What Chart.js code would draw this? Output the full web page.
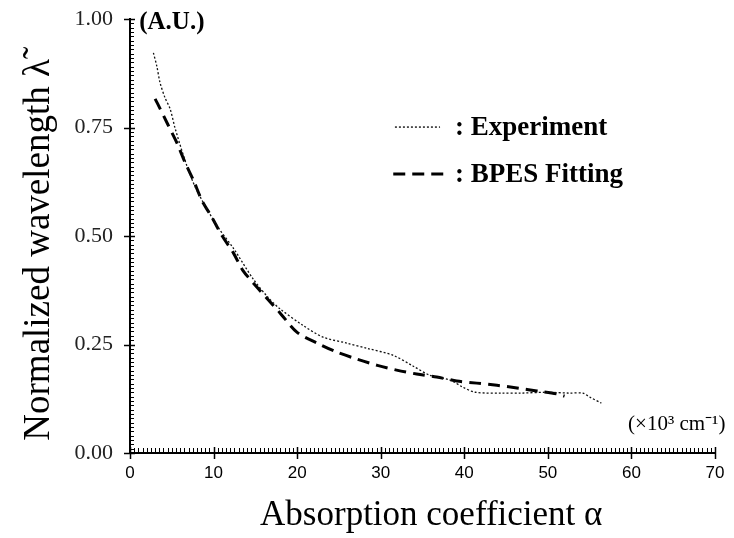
<!DOCTYPE html>
<html>
<head>
<meta charset="utf-8">
<script src="https://cdn.jsdelivr.net/npm/chart.js@4"></script>
<style>
html,body{margin:0;padding:0;background:#fff;}
#wrap{position:relative;width:734px;height:538px;}
</style>
</head>
<body>
<div id="wrap"><canvas id="c" width="734" height="538"></canvas></div>
<script>
const expX = [2.8, 3.2, 3.6, 4.2, 4.8, 5.4, 6.8, 8.0, 10.4, 12.4, 14.7, 16.5, 17.9, 20.7, 23.1, 26.0, 28.4, 31.5, 33.9, 35.9, 38.3, 39.8, 41.3, 44.5, 46.7, 49.9, 52.6, 54.2, 55.0, 56.4];
const expY = [0.922, 0.892, 0.853, 0.818, 0.793, 0.748, 0.662, 0.605, 0.524, 0.471, 0.402, 0.359, 0.333, 0.294, 0.267, 0.253, 0.241, 0.225, 0.200, 0.179, 0.168, 0.152, 0.140, 0.138, 0.138, 0.140, 0.138, 0.138, 0.129, 0.115];
const fitX = [3.0, 3.3, 4.5, 5.6, 6.6, 7.6, 8.6, 9.8, 11.0, 12.4, 13.5, 15.2, 16.4, 17.9, 20.0, 22.4, 24.8, 27.2, 29.6, 31.9, 34.3, 36.7, 39.1, 41.5, 43.9, 46.3, 48.7, 51.1, 52.0];
const fitY = [0.816, 0.805, 0.758, 0.715, 0.669, 0.628, 0.582, 0.543, 0.501, 0.460, 0.421, 0.382, 0.356, 0.324, 0.278, 0.253, 0.232, 0.216, 0.202, 0.191, 0.182, 0.175, 0.166, 0.161, 0.156, 0.150, 0.143, 0.136, 0.131];
const seriesNames = ['Experiment', 'BPES Fitting'];
const xTitle = '  Absorption coefficient \u03b1';
const yTitle = 'Normalized wavelength \u03bb\u0303   ';
const unitLabel = '(\u00d710\u00b3 cm\u207b\u00b9)';
const auLabel = '(A.U.)';

const pts = (xs, ys) => xs.map((x, i) => ({x, y: ys[i]}));

const minorTicks = {
  id: 'minorTicks',
  afterDraw(chart) {
    const {ctx, scales: {x, y}} = chart;
    ctx.save();
    ctx.strokeStyle = '#000';
    const yb = y.getPixelForValue(0);
    for (let i = 0; i <= 140; i++) {
      const v = i * 0.5;
      const px = Math.round(x.getPixelForValue(v)) + 0.5;
      ctx.beginPath();
      if (i % 20 === 0) { ctx.moveTo(px, yb - 6); ctx.lineTo(px, yb + 6); ctx.lineWidth = 1.5; }
      else { ctx.moveTo(px, yb - 5); ctx.lineTo(px, yb); ctx.lineWidth = 1; }
      ctx.stroke();
    }
    const xl = x.getPixelForValue(0);
    for (let i = 0; i <= 100; i++) {
      const v = i * 0.01;
      const py = Math.round(y.getPixelForValue(v)) + 0.5;
      ctx.beginPath();
      if (i % 25 === 0) { ctx.moveTo(xl - 6, py); ctx.lineTo(xl + 5, py); ctx.lineWidth = 1.5; }
      else { ctx.moveTo(xl, py); ctx.lineTo(xl + 4, py); ctx.lineWidth = 1; }
      ctx.stroke();
    }
    // annotations
    ctx.fillStyle = '#000';
    ctx.textBaseline = 'alphabetic';
    ctx.textAlign = 'left';
    ctx.font = 'bold 25px "Liberation Serif", serif';
    ctx.fillText(auLabel, x.getPixelForValue(1.1), y.getPixelForValue(0.978));
    ctx.font = '21px "Liberation Serif", serif';
    ctx.fillText(unitLabel, x.getPixelForValue(59.6), y.getPixelForValue(0.053));
    // legend
    const rows = [
      {name: seriesNames[0], y: 0.751, dash: [2, 2], w: 1.3, x0: 31.7, x1: 37.1},
      {name: seriesNames[1], y: 0.643, dash: [12, 7], w: 3, x0: 31.5, x1: 37.6}
    ];
    ctx.font = 'bold 27px "Liberation Serif", serif';
    rows.forEach(r => {
      const py = y.getPixelForValue(r.y);
      ctx.beginPath();
      ctx.setLineDash(r.dash);
      ctx.lineWidth = r.w;
      ctx.moveTo(x.getPixelForValue(r.x0), py);
      ctx.lineTo(x.getPixelForValue(r.x1), py);
      ctx.stroke();
      ctx.setLineDash([]);
      ctx.fillText(': ' + r.name, x.getPixelForValue(38.9), py + 8);
    });
    ctx.restore();
  }
};

new Chart(document.getElementById('c'), {
  type: 'scatter',
  data: {
    datasets: [
      {label: seriesNames[0], data: pts(expX, expY), showLine: true, borderColor: '#111', borderWidth: 1.3, borderDash: [2, 2], pointRadius: 0, tension: 0.3, fill: false},
      {label: seriesNames[1], data: pts(fitX, fitY), showLine: true, borderColor: '#000', borderWidth: 3, borderDash: [12, 7], pointRadius: 0, tension: 0.3, fill: false}
    ]
  },
  options: {
    responsive: false,
    animation: false,
    layout: {padding: {top: 19, right: 19, left: 0, bottom: 0}},
    plugins: {legend: {display: false}, tooltip: {enabled: false}},
    scales: {
      x: {
        type: 'linear', min: 0, max: 70,
        afterFit(s) { s.height = 85; s.paddingLeft = 0; s.paddingRight = 0; },
        grid: {display: false},
        border: {display: true, color: '#000', width: 2},
        ticks: {stepSize: 10, padding: 2, color: '#000', font: {family: '"Liberation Sans", Arial, sans-serif', size: 17}},
        title: {display: true, text: xTitle, color: '#000', font: {family: '"Liberation Serif", "Times New Roman", serif', size: 35}, padding: {top: 0, bottom: 1}}
      },
      y: {
        type: 'linear', min: 0, max: 1,
        afterFit(s) { s.width = 130; s.paddingTop = 0; s.paddingBottom = 0; },
        grid: {display: false},
        border: {display: true, color: '#000', width: 2},
        ticks: {stepSize: 0.25, padding: 9, color: '#222', callback: v => v.toFixed(2), font: {family: '"Liberation Serif", "Times New Roman", serif', size: 22}},
        title: {display: true, text: yTitle, color: '#000', font: {family: '"Liberation Serif", "Times New Roman", serif', size: 37}, padding: {top: 17, bottom: 0}}
      }
    }
  },
  plugins: [minorTicks]
});
</script>
</body>
</html>
